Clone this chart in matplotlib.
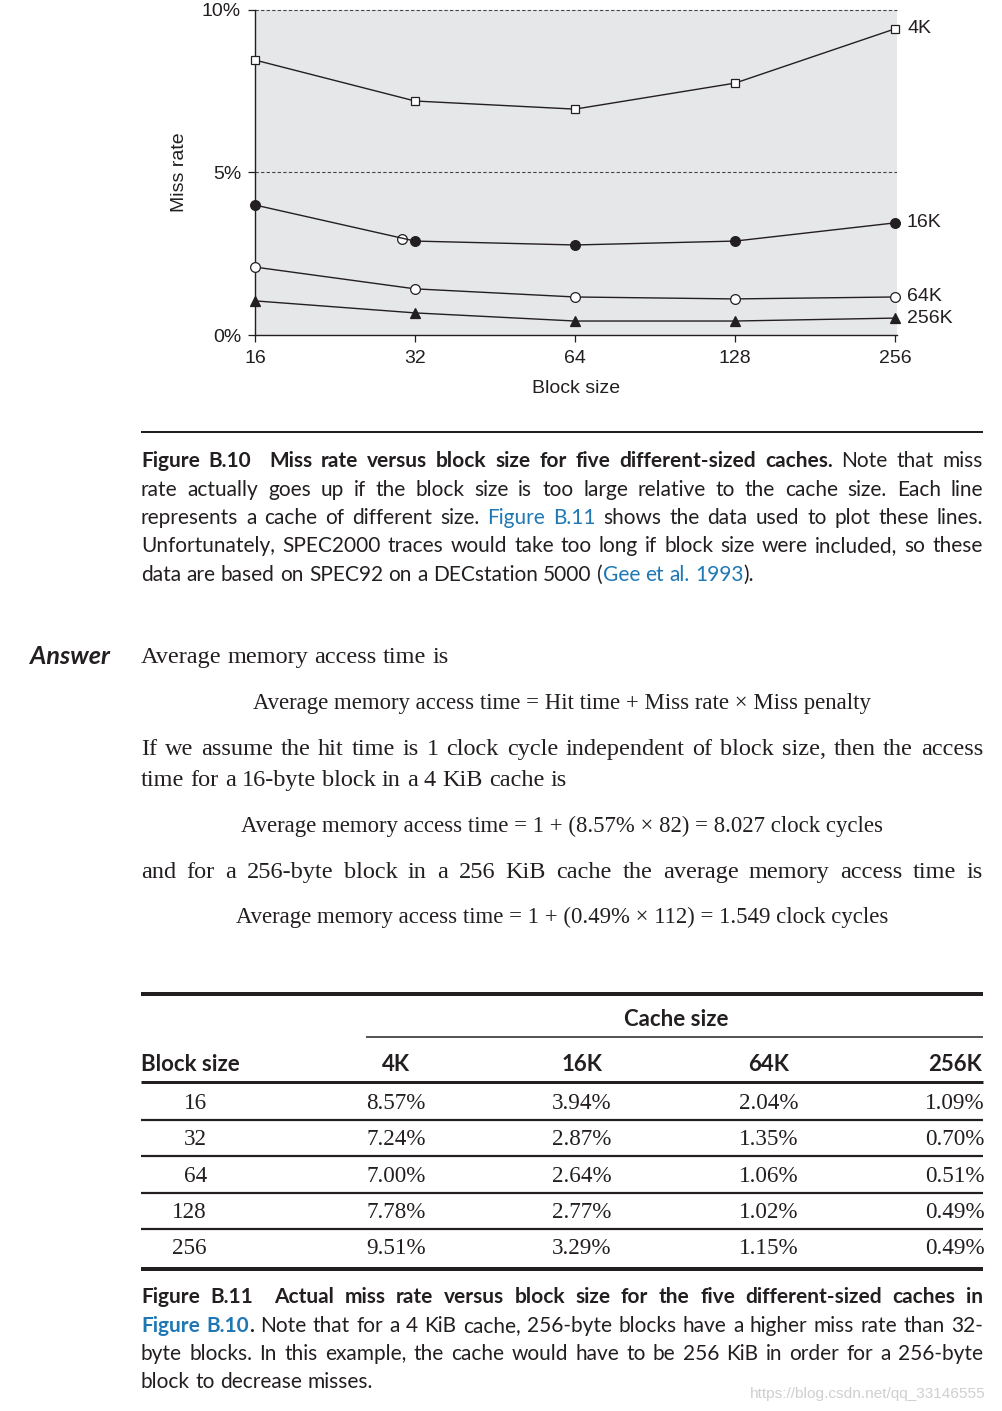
import matplotlib
matplotlib.use('Agg')
import matplotlib.pyplot as plt
from matplotlib.transforms import Affine2D
from matplotlib.lines import Line2D
from matplotlib.ticker import NullLocator

W, H = 1003, 1411

# ---------------- data ----------------
block_sizes = [16, 32, 64, 128, 256]
series_names = ['4K', '16K', '64K', '256K']
chart_4k = [8.46, 7.20, 6.95, 7.75, 9.42]
chart_16k = [4.00, 2.89, 2.77, 2.89, 3.45]
chart_64k = [2.09, 1.42, 1.17, 1.11, 1.17]
chart_256k = [1.05, 0.68, 0.43, 0.43, 0.52]
stray_x = [30.2]
stray_y = [2.95]
y_ticks = [0, 5, 10]
y_tick_labels = ['0%', '5%', '10%']

table_blocks = ['16', '32', '64', '128', '256']
table_4k = [8.57, 7.24, 7.00, 7.78, 9.51]
table_16k = [3.94, 2.87, 2.64, 2.77, 3.29]
table_64k = [2.04, 1.35, 1.06, 1.02, 1.15]
table_256k = [1.09, 0.70, 0.51, 0.49, 0.49]

INK = '#231f20'
BLUE = '#1f78b4'
SANS = 'Lato'
SERIF = 'Liberation Serif'
CHART_FS = 14

fig = plt.figure(figsize=(W / 100, H / 100), dpi=100)
fig.patch.set_facecolor('white')
T = Affine2D().scale(1 / W, -1 / H).translate(0, 1) + fig.transFigure
renderer = fig.canvas.get_renderer()

# ---------------- chart ----------------
ax = fig.add_axes([255 / W, 1 - 335 / H, 642 / W, 325 / H])
ax.set_facecolor('#e6e7e8')
ax.set_xscale('log', base=2)
ax.set_xlim(16, 256 * 2 ** (2 / 160))
ax.set_ylim(0, 10)
for s in ['top', 'right']:
    ax.spines[s].set_visible(False)
for s in ['left', 'bottom']:
    ax.spines[s].set_color(INK)
    ax.spines[s].set_linewidth(1.0)
ax.axhline(5, color='#444444', lw=0.8, ls=(0, (3, 2)), zorder=1)
ax.axhline(10, color='#444444', lw=0.8, ls=(0, (3, 2)), zorder=1, clip_on=False)

ax.set_xticks(block_sizes)
ax.set_xticklabels([str(b) for b in block_sizes])
ax.xaxis.set_minor_locator(NullLocator())
ax.set_yticks(y_ticks)
ax.set_yticklabels(y_tick_labels)
ax.tick_params(axis='both', direction='out', length=5, width=0.9, color=INK,
               labelsize=CHART_FS, labelcolor=INK)
ax.tick_params(axis='x', pad=6)
ax.tick_params(axis='y', pad=5)
for lab in ax.get_xticklabels() + ax.get_yticklabels():
    lab.set_family('Liberation Sans')

ax.set_xlabel('Block size', fontsize=CHART_FS, family='Liberation Sans', color=INK)
ax.xaxis.set_label_coords(0.5, -0.165)
ax.xaxis.label.set_verticalalignment('center')
ax.set_ylabel('Miss rate', fontsize=CHART_FS, family='Liberation Sans', color=INK)
ax.yaxis.set_label_coords(-0.117, 0.5)
ax.yaxis.label.set_verticalalignment('center')

series = [chart_4k, chart_16k, chart_64k, chart_256k]
mk = [dict(marker='s', mfc='white', ms=6.3),
      dict(marker='o', mfc=INK, ms=7),
      dict(marker='o', mfc='white', ms=7),
      dict(marker='^', mfc=INK, ms=7)]
for name, vals, m in zip(series_names, series, mk):
    ax.plot(block_sizes, vals, color=INK, lw=1.0, mec=INK, mew=0.9,
            clip_on=False, zorder=4, **m)
    ax.annotate(name, xy=(block_sizes[-1], vals[-1]), xytext=(12, 0),
                textcoords='offset pixels', va='center', ha='left',
                fontsize=CHART_FS, family='Liberation Sans', color=INK,
                annotation_clip=False)
ax.plot(stray_x, stray_y, 'o', mfc='white', mec=INK, mew=0.9, ms=7,
        zorder=3, clip_on=False)

# ---------------- text helpers ----------------
styles = {
    'r': dict(family=SANS, color=INK),
    'b': dict(family=SANS, weight='bold', color=INK),
    'l': dict(family=SANS, color=BLUE),
    'lb': dict(family=SANS, weight='bold', color=BLUE),
    's': dict(family=SERIF, color=INK),
    'bi': dict(family=SANS, weight='bold', style='italic', color=INK),
}


def measure(s, size, st):
    t = fig.text(0, 0, s, transform=T, fontsize=size, **styles[st])
    w = t.get_window_extent(renderer).width
    t.remove()
    return w


def space_w(size, st):
    return measure('x x', size, st) - measure('xx', size, st)


def tokenize(runs):
    words = []
    cur = None
    pending = 0
    for text, st in runs:
        parts = text.split(' ')
        for i, p in enumerate(parts):
            if i > 0:
                pending += 1
                cur = None
            if not p:
                continue
            if cur is None:
                cur = [[], pending if words else 0]
                words.append(cur)
                pending = 0
            cur[0].append((p, st))
    return words


def natural(runs, size):
    words = tokenize(runs)
    st0 = runs[0][1]
    sw = space_w(size, st0)
    tot = 0
    for pieces, g in words:
        tot += sum(measure(p, size, st) for p, st in pieces) + g * sw
    return tot


def fit_size(lines, desired, target):
    mx = max(natural(r, desired) for r in lines)
    return desired * min(1.0, 0.995 * target / mx)


def draw_line(runs, x0, x1, y, size, justify=True):
    words = tokenize(runs)
    st0 = runs[0][1]
    widths = []
    for pieces, g in words:
        widths.append([measure(p, size, st) for p, st in pieces])
    units = sum(g for _, g in words)
    if justify and units > 0:
        gu = (x1 - x0 - sum(sum(w) for w in widths)) / units
    else:
        gu = space_w(size, st0)
    x = x0
    for (pieces, g), ws in zip(words, widths):
        x += g * gu
        for (p, st), w in zip(pieces, ws):
            fig.text(x, y, p, transform=T, fontsize=size, ha='left',
                     va='baseline', **styles[st])
            x += w


def hrule(x0, x1, y, px):
    fig.add_artist(Line2D([x0, x1], [y, y], transform=T, color=INK,
                          lw=px * 0.72, solid_capstyle='butt'))


# ---------------- caption B.10 ----------------
hrule(141, 983, 432, 2)
cap1 = [
    [('Figure B.10  Miss rate versus block size for five different-sized caches.', 'b'),
     (' Note that miss', 'r')],
    [('rate actually goes up if the block size is too large relative to the cache size. Each line', 'r')],
    [('represents a cache of different size. ', 'r'), ('Figure B.11', 'l'),
     (' shows the data used to plot these lines.', 'r')],
    [('Unfortunately, SPEC2000 traces would take too long if block size were included, so these', 'r')],
    [('data are based on SPEC92 on a DECstation 5000 (', 'r'), ('Gee et al. 1993', 'l'), (').', 'r')],
]
cap1_base = [467, 495.5, 524, 552.5, 581]
sz_cap = fit_size(cap1[:4], 15, 842)

cap2 = [
    [('Figure B.11  Actual miss rate versus block size for the five different-sized caches in', 'b')],
    [('Figure B.10', 'lb'), ('.', 'b'),
     (' Note that for a 4 KiB cache, 256-byte blocks have a higher miss rate than 32-', 'r')],
    [('byte blocks. In this example, the cache would have to be 256 KiB in order for a 256-byte', 'r')],
    [('block to decrease misses.', 'r')],
]
cap2_base = [1303, 1332, 1360, 1388]
sz_cap2 = fit_size(cap2[:3], 15, 842)
sz_c = min(sz_cap, sz_cap2)

for i, (runs, y) in enumerate(zip(cap1, cap1_base)):
    draw_line(runs, 141, 983, y, sz_c, justify=(i < len(cap1) - 1))

# ---------------- answer text ----------------
ans_w = measure('Answer', 15, 'bi')
fig.text(30, 664, 'Answer', transform=T, fontsize=15 * 80 / ans_w,
         va='baseline', ha='left', **styles['bi'])
body = [
    [('Average memory access time is', 's')],
    [('If we assume the hit time is 1 clock cycle independent of block size, then the access', 's')],
    [('time for a 16-byte block in a 4 KiB cache is', 's')],
    [('and for a 256-byte block in a 256 KiB cache the average memory access time is', 's')],
]
body_base = [663, 755, 786, 878]
body_just = [False, True, False, True]
sz_body = fit_size([body[1], body[3]], 17.5, 842)
for runs, y, j in zip(body, body_base, body_just):
    draw_line(runs, 141, 983, y, sz_body, justify=j)

eqs = ['Average memory access time = Hit time + Miss rate \u00d7 Miss penalty',
       'Average memory access time = 1 + (8.57% \u00d7 82) = 8.027 clock cycles',
       'Average memory access time = 1 + (0.49% \u00d7 112) = 1.549 clock cycles']
eq_base = [709, 832, 923]
sz_eq = 15 * 644 / measure(eqs[1], 15, 's')
for e, y in zip(eqs, eq_base):
    fig.text(562, y, e, transform=T, fontsize=sz_eq, ha='center', va='baseline',
             **styles['s'])

# ---------------- table ----------------
hrule(141, 983, 994, 4)
sz_hdr = 14 * 99 / measure('Block size', 14, 'b')
fig.text(676, 1026, 'Cache size', transform=T, fontsize=sz_hdr, ha='center',
         va='baseline', **styles['b'])
hrule(366, 983, 1037, 1.5)
col_cx = [396, 582, 769, 955]
fig.text(141, 1071, 'Block size', transform=T, fontsize=sz_hdr, ha='left',
         va='baseline', **styles['b'])
for name, cx in zip(series_names, col_cx):
    fig.text(cx, 1071, name, transform=T, fontsize=sz_hdr, ha='center',
             va='baseline', **styles['b'])
hrule(141, 983, 1082, 3)
row_base = [1109, 1145, 1182, 1218, 1254]
sz_tab = 16 * 60 / measure('8.57%', 16, 's')
cols = [table_4k, table_16k, table_64k, table_256k]
for i, (blk, y) in enumerate(zip(table_blocks, row_base)):
    fig.text(207, y, blk, transform=T, fontsize=sz_tab, ha='right',
             va='baseline', **styles['s'])
    for col, cx in zip(cols, col_cx):
        fig.text(cx, y, '%.2f%%' % col[i], transform=T, fontsize=sz_tab,
                 ha='center', va='baseline', **styles['s'])
for y in [1119.5, 1156, 1192.5, 1229]:
    hrule(141, 983, y, 2.2)
hrule(141, 983, 1269, 4)

# ---------------- caption B.11 ----------------
for i, (runs, y) in enumerate(zip(cap2, cap2_base)):
    draw_line(runs, 141, 983, y, sz_c, justify=(i < len(cap2) - 1))

# watermark
wm = 'https://blog.csdn.net/qq_33146555'
wm_size = 11 * 245 / measure(wm, 11, 'r')
fig.text(750, 1398, wm, transform=T, fontsize=wm_size, ha='left',
         va='baseline', family='Liberation Sans', color='#cfcfcf')

fig.savefig('out.png', dpi=100, facecolor='white')
